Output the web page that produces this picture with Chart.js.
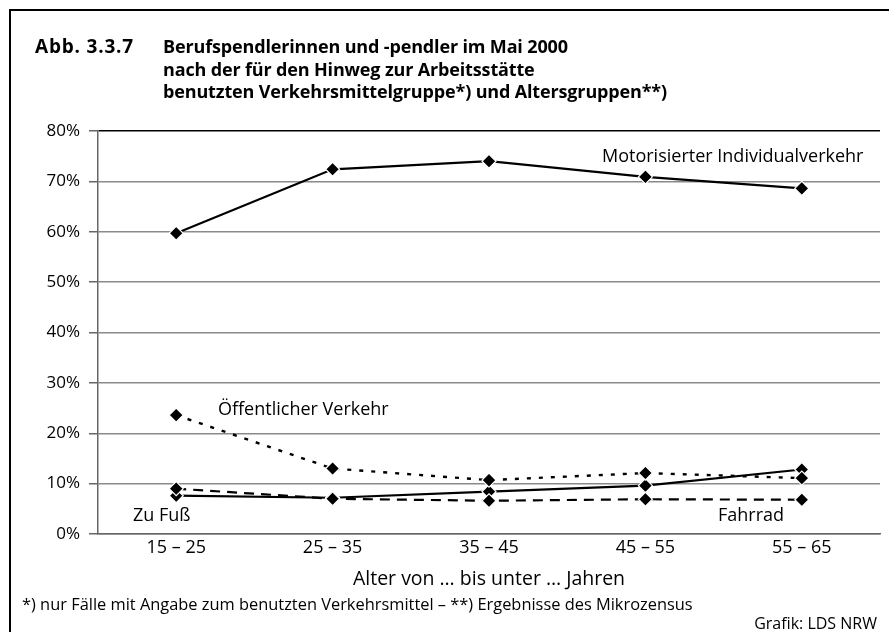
<!DOCTYPE html>
<html lang="de">
<head>
<meta charset="utf-8">
<script src="https://cdn.jsdelivr.net/npm/chart.js@4.4.1/dist/chart.umd.min.js"></script>
<style>
  html, body { margin: 0; padding: 0; background: #fff; }
  #wrap { position: relative; width: 889px; height: 632px; overflow: hidden; font-family: "Open Sans", sans-serif; color: #000; }
  #chart { position: absolute; left: 0; top: 0; }
  .frame-left { position: absolute; left: 9px; top: 9px; width: 2px; height: 640px; background: #000; }
  .frame-top { position: absolute; left: 9px; top: 9px; width: 900px; height: 2px; background: #000; }
  .t { position: absolute; white-space: nowrap; }
  .title { font-weight: 700; font-size: 18px; line-height: 22.5px; letter-spacing: -0.15px; }
  .small { font-size: 16.4px; }
</style>
</head>
<body>
<div id="wrap">
  <canvas id="chart" width="889" height="632"></canvas>
  <div class="frame-left"></div>
  <div class="frame-top"></div>
  <div class="t title" style="left:35px; top:35px; font-size:19px; letter-spacing:0.8px;">Abb. 3.3.7</div>
  <div class="t title" style="left:163px; top:35px;">Berufspendlerinnen und -pendler im Mai 2000<br>nach der für den Hinweg zur Arbeitsstätte<br>benutzten Verkehrsmittelgruppe*) und Altersgruppen**)</div>
  <div class="t" style="left:0; width:978px; text-align:center; top:564px; font-size:19.5px;">Alter von … bis unter … Jahren</div>
  <div class="t small" style="left:22px; top:592px;">*) nur Fälle mit Angabe zum benutzten Verkehrsmittel – **) Ergebnisse des Mikrozensus</div>
  <div class="t" style="right:12px; top:612px; font-size:16px;">Grafik: LDS NRW</div>
</div>
<script>
const altersgruppen = ['15 – 25', '25 – 35', '35 – 45', '45 – 55', '55 – 65'];
const motorisiert = [59.7, 72.4, 74.0, 70.9, 68.6];
const oeffentlich = [23.6, 13.0, 10.7, 12.1, 11.1];
const zuFuss = [7.6, 7.2, 8.4, 9.6, 12.8];
const fahrrad = [9.0, 7.0, 6.6, 6.9, 6.8];
const yTicks = [0, 10, 20, 30, 40, 50, 60, 70, 80];

const FONT = '"Open Sans", sans-serif';

// series names written next to the lines
const seriesLabels = {
  id: 'seriesLabels',
  afterDatasetsDraw(chart) {
    const ctx = chart.ctx;
    ctx.save();
    ctx.font = '18px ' + FONT;
    ctx.fillStyle = '#000';
    ctx.textBaseline = 'middle';
    ctx.textAlign = 'left';
    ctx.fillText('Motorisierter Individualverkehr', 602, 157);
    ctx.fillText('Öffentlicher Verkehr', 218, 410);
    ctx.fillText('Zu Fuß', 133, 516);
    ctx.fillText('Fahrrad', 718, 516);
    ctx.restore();
  }
};

function series(label, data, dash, width) {
  return {
    label,
    data,
    borderColor: '#000',
    borderWidth: width,
    borderDash: dash,
    tension: 0,
    pointStyle: 'rectRot',
    pointRadius: 7,
    pointHoverRadius: 7,
    pointBackgroundColor: '#000',
    pointBorderColor: '#fff',
    pointBorderWidth: 1.2
  };
}

new Chart(document.getElementById('chart'), {
  type: 'line',
  data: {
    labels: altersgruppen,
    datasets: [
      series('Motorisierter Individualverkehr', motorisiert, [], 2.2),
      series('Fahrrad', fahrrad, [10, 7], 2.2),
      series('Öffentlicher Verkehr', oeffentlich, [4, 8], 2.4),
      series('Zu Fuß', zuFuss, [], 2.2)
    ]
  },
  options: {
    responsive: false,
    animation: false,
    layout: { padding: { left: 10, right: 9, top: 131, bottom: 68 } },
    plugins: { legend: { display: false }, tooltip: { enabled: false } },
    scales: {
      x: {
        offset: true,
        grid: { display: false, drawTicks: false },
        border: { display: true, color: '#666', width: 1.5 },
        ticks: { color: '#000', font: { family: FONT, size: 18 }, padding: 3, maxRotation: 0 },
        afterFit(scale) { scale.height = 30; }
      },
      y: {
        min: 0,
        max: 80,
        afterBuildTicks(scale) { scale.ticks = yTicks.map(v => ({ value: v })); },
        grid: {
          color: ctx => (ctx.tick && ctx.tick.value === 80 ? '#000' : '#8a8a8a'),
          lineWidth: 1.5,
          tickLength: 9,
          tickColor: '#666'
        },
        border: { display: true, color: '#666', width: 1.5 },
        ticks: { color: '#000', font: { family: FONT, size: 17 }, padding: 9, callback: v => v + '%' },
        afterFit(scale) { scale.width = 88; }
      }
    }
  },
  plugins: [seriesLabels]
});
</script>
</body>
</html>
